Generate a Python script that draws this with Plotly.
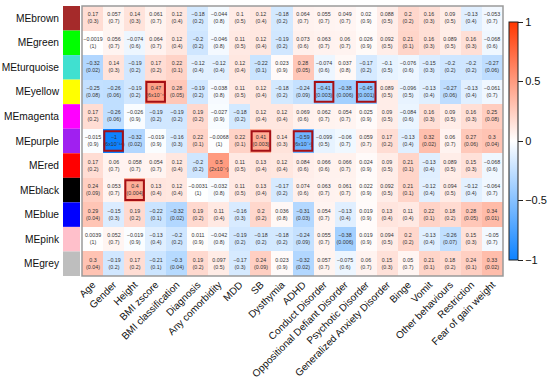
import plotly.graph_objects as go

modules = ["MEbrown", "MEgreen", "MEturquoise", "MEyellow", "MEmagenta", "MEpurple",
           "MEred", "MEblack", "MEblue", "MEpink", "MEgrey"]
module_colors = ["#A52A2A", "#00FF00", "#40E0D0", "#FFFF00", "#FF00FF", "#A020F0",
                 "#FF0000", "#000000", "#0000FF", "#FFC0CB", "#BEBEBE"]
traits = ["Age", "Gender", "Height", "BMI zscore", "BMI classification", "Diagnosis",
          "Any comorbidity", "MDD", "SB", "Dysthymia", "ADHD", "Conduct Disorder",
          "Oppositional Defiant Disorder", "Psychotic Disorder",
          "Generalized Anxiety Disorder", "Binge", "Vomit", "Other behaviours",
          "Restriction", "Fear of gain weight"]

corr_brown = [0.17, 0.057, 0.14, 0.061, 0.12, -0.18, -0.044, 0.1, 0.12, -0.18, 0.064, 0.055, 0.049, 0.02, 0.088, 0.2, 0.16, 0.09, -0.13, -0.053]
p_brown = ["0.3", "0.7", "0.3", "0.7", "0.4", "0.2", "0.8", "0.5", "0.4", "0.2", "0.7", "0.7", "0.7", "0.9", "0.5", "0.2", "0.3", "0.5", "0.4", "0.7"]
corr_green = [-0.0019, 0.056, -0.074, 0.064, 0.12, -0.2, -0.046, 0.11, 0.12, -0.19, 0.073, 0.063, 0.06, 0.026, 0.092, 0.21, 0.16, 0.089, 0.16, -0.068]
p_green = ["1", "0.7", "0.6", "0.7", "0.4", "0.2", "0.8", "0.5", "0.4", "0.2", "0.6", "0.7", "0.7", "0.9", "0.5", "0.1", "0.3", "0.5", "0.3", "0.6"]
corr_turquoise = [-0.32, 0.14, -0.19, 0.17, 0.22, -0.12, -0.12, 0.12, -0.22, 0.023, 0.28, -0.074, 0.037, -0.17, -0.1, -0.076, -0.15, -0.2, -0.2, -0.27]
p_turquoise = ["0.02", "0.3", "0.2", "0.2", "0.1", "0.4", "0.4", "0.4", "0.1", "0.9", "0.05", "0.6", "0.8", "0.2", "0.5", "0.6", "0.3", "0.2", "0.2", "0.06"]
corr_yellow = [-0.25, -0.26, -0.19, 0.47, 0.28, -0.19, -0.038, 0.11, 0.12, -0.18, -0.24, -0.41, -0.38, -0.45, 0.089, -0.096, -0.13, -0.27, -0.13, -0.061]
p_yellow = ["0.08", "0.06", "0.2", "6x10⁻⁴", "0.05", "0.2", "0.8", "0.5", "0.4", "0.2", "0.09", "0.003", "0.006", "0.001", "0.5", "0.5", "0.4", "0.06", "0.4", "0.7"]
corr_magenta = [0.17, -0.26, -0.026, -0.19, -0.19, 0.19, -0.027, -0.18, 0.12, 0.12, 0.069, 0.062, 0.054, 0.025, 0.09, -0.084, 0.16, 0.09, 0.16, 0.25]
p_magenta = ["0.2", "0.06", "0.9", "0.2", "0.2", "0.2", "0.9", "0.2", "0.4", "0.4", "0.6", "0.7", "0.7", "0.9", "0.5", "0.6", "0.3", "0.5", "0.3", "0.08"]
corr_purple = [-0.015, -1, -0.32, -0.019, -0.16, 0.22, -0.0068, 0.22, 0.41, 0.14, -0.59, -0.099, -0.06, 0.059, 0.17, -0.13, 0.32, 0.06, 0.27, 0.3]
p_purple = ["0.9", "6x10⁻¹⁶", "0.02", "0.9", "0.3", "0.1", "1", "0.1", "0.003", "0.3", "6x10⁻⁶", "0.5", "0.7", "0.7", "0.2", "0.4", "0.02", "0.7", "0.06", "0.04"]
corr_red = [0.17, 0.06, 0.058, 0.054, 0.12, -0.2, 0.5, 0.11, 0.13, 0.12, 0.084, 0.066, 0.066, 0.024, 0.09, 0.21, -0.13, 0.089, 0.15, -0.068]
p_red = ["0.2", "0.7", "0.7", "0.7", "0.4", "0.2", "2x10⁻⁴", "0.5", "0.4", "0.4", "0.6", "0.6", "0.7", "0.9", "0.5", "0.1", "0.4", "0.5", "0.3", "0.6"]
corr_black = [0.24, 0.053, 0.4, 0.13, 0.12, -0.0031, -0.032, 0.11, 0.13, -0.17, 0.074, 0.063, 0.061, 0.022, 0.092, 0.21, -0.12, 0.094, -0.12, -0.064]
p_black = ["0.09", "0.7", "0.004", "0.4", "0.4", "1", "0.8", "0.5", "0.4", "0.2", "0.6", "0.7", "0.7", "0.9", "0.5", "0.1", "0.4", "0.5", "0.4", "0.7"]
corr_blue = [0.29, -0.15, 0.19, -0.22, -0.32, 0.19, 0.11, -0.16, 0.2, 0.036, -0.31, 0.054, -0.13, 0.019, 0.13, 0.11, 0.22, 0.18, 0.28, 0.34]
p_blue = ["0.04", "0.3", "0.2", "0.1", "0.02", "0.2", "0.4", "0.3", "0.2", "0.8", "0.03", "0.7", "0.4", "0.9", "0.4", "0.4", "0.1", "0.2", "0.05", "0.01"]
corr_pink = [0.0039, 0.052, -0.019, -0.13, -0.2, 0.011, -0.042, -0.19, -0.18, -0.18, -0.24, 0.055, -0.38, 0.019, 0.094, 0.2, -0.13, -0.26, 0.15, -0.05]
p_pink = ["1", "0.7", "0.9", "0.4", "0.2", "0.9", "0.8", "0.2", "0.2", "0.2", "0.09", "0.7", "0.006", "0.9", "0.5", "0.2", "0.4", "0.07", "0.3", "0.7"]
corr_grey = [0.3, -0.19, 0.17, -0.21, -0.3, 0.19, 0.097, -0.17, 0.24, 0.023, -0.32, 0.057, -0.075, 0.06, 0.15, 0.05, 0.21, 0.18, 0.24, 0.33]
p_grey = ["0.04", "0.2", "0.2", "0.1", "0.04", "0.2", "0.5", "0.3", "0.09", "0.9", "0.02", "0.7", "0.6", "0.7", "0.3", "0.7", "0.1", "0.2", "0.1", "0.02"]

highlighted = [("MEyellow", "BMI zscore"), ("MEyellow", "Conduct Disorder"),
               ("MEyellow", "Psychotic Disorder"), ("MEpurple", "Gender"),
               ("MEpurple", "SB"), ("MEpurple", "ADHD"), ("MEblack", "Height")]

colorbar_ticks = [1, 0.5, 0, -0.5, -1]

corr = [corr_brown, corr_green, corr_turquoise, corr_yellow, corr_magenta, corr_purple,
        corr_red, corr_black, corr_blue, corr_pink, corr_grey]
pvals = [p_brown, p_green, p_turquoise, p_yellow, p_magenta, p_purple,
         p_red, p_black, p_blue, p_pink, p_grey]

text = [[f"{v:g}<br>({p})".replace("-", "−") for v, p in zip(rv, rp)]
        for rv, rp in zip(corr, pvals)]

W, H = 550, 381
hx0, hx1 = 82 / W, 503 / W
hy0, hy1 = 1 - 276 / H, 1 - 6 / H
FONT = "Liberation Sans, Arial, sans-serif"

xi = list(range(len(traits)))
yi = list(range(len(modules)))

fig = go.Figure()
fig.add_trace(go.Heatmap(
    z=corr, x=xi, y=yi, text=text, texttemplate="%{text}",
    textfont=dict(size=5.3, color="#333333", family=FONT),
    zmin=-1, zmax=1,
    colorscale=[[0, "rgb(13,130,255)"], [0.5, "rgb(255,255,255)"], [1, "rgb(255,55,0)"]],
    colorbar=dict(
        x=509 / W, xanchor="left", xpad=0, y=1 - 141 / H, yanchor="middle", ypad=0,
        len=238 / H, lenmode="fraction", thickness=9,
        outlinewidth=1, outlinecolor="#222222",
        tickvals=colorbar_ticks, ticks="outside", ticklen=5, tickcolor="#222222",
        tickfont=dict(size=11, color="#111111", family=FONT),
    ),
    hoverinfo="skip",
))

shapes = []
for i, c in enumerate(module_colors):
    shapes.append(dict(type="rect", xref="paper", yref="y",
                       x0=63 / W, x1=80 / W, y0=i - 0.5, y1=i + 0.5,
                       fillcolor=c, line=dict(width=0), layer="above"))
# frame around the heatmap
shapes.append(dict(type="rect", xref="paper", yref="paper",
                   x0=hx0, x1=hx1, y0=hy0, y1=hy1,
                   line=dict(color="#9a9a9a", width=1.5), fillcolor="rgba(0,0,0,0)"))
for m, t in highlighted:
    i, j = modules.index(m), traits.index(t)
    shapes.append(dict(type="rect", xref="x", yref="y",
                       x0=j - 0.44, x1=j + 0.44, y0=i - 0.4, y1=i + 0.4,
                       line=dict(color="#A50F15", width=2), fillcolor="rgba(0,0,0,0)"))

fig.update_layout(
    width=W, height=H,
    margin=dict(l=0, r=0, t=0, b=0, autoexpand=False),
    paper_bgcolor="white", plot_bgcolor="white",
    shapes=shapes,
    hovermode=False,
    font=dict(family=FONT, color="#111111"),
    xaxis=dict(domain=[hx0, hx1], tickvals=xi, ticktext=traits, tickangle=-45,
               tickfont=dict(size=10), ticks="", showgrid=False, zeroline=False,
               showline=False, automargin=False, fixedrange=True,
               range=[-0.5, len(traits) - 0.5]),
    yaxis=dict(domain=[hy0, hy1], tickvals=yi, ticktext=modules, autorange="reversed",
               tickfont=dict(size=10.2), ticks="", showgrid=False, zeroline=False,
               showline=False, automargin=False, fixedrange=True, ticklabelstandoff=22),
)

fig.write_html("out.html",
               config={"displayModeBar": False, "staticPlot": True},
               post_script="document.body.style.margin='0';"
                           "document.body.style.overflow='hidden';")
